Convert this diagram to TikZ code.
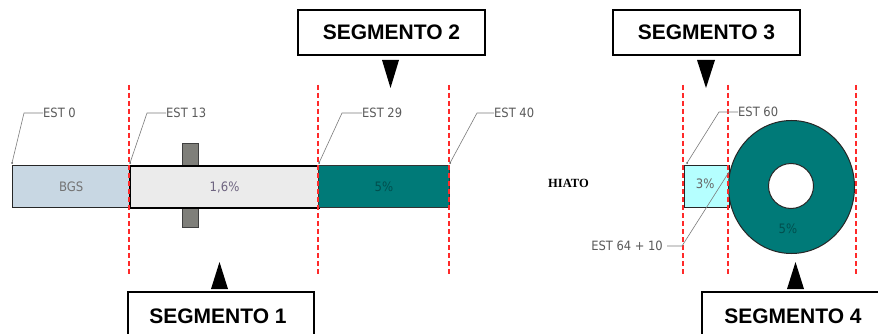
\documentclass[tikz,border=0pt]{standalone}
\usepackage{fontspec}
\usetikzlibrary{shapes.geometric}
\setmainfont{Liberation Sans}
\newfontfamily\estfont{DejaVu Sans Condensed}
\newfontfamily\hiatofont{Liberation Serif}
\definecolor{tealc}{HTML}{007A78}
\definecolor{bgsc}{HTML}{C8D7E3}
\definecolor{lgray}{HTML}{EBEBEB}
\definecolor{cyanc}{HTML}{B5FFFF}
\definecolor{postc}{HTML}{7F7F7A}
\definecolor{estc}{HTML}{5A5A5A}
\definecolor{redc}{HTML}{FF2A2A}
\definecolor{purpg}{HTML}{6E6480}
\tikzset{
  segbox/.style={draw=black, line width=2pt, fill=white, minimum width=187pt, minimum height=45pt, inner sep=0pt, font=\bfseries\fontsize{21}{21}\selectfont},
  segtext/.style={font=\bfseries\fontsize{21}{21}\selectfont, inner sep=0pt},
  arrowtri/.style={fill=black},
  cut/.style={draw=redc, line width=1.2pt, dash pattern=on 5pt off 3pt},
  esttext/.style={font=\estfont\fontsize{12.8}{13}\selectfont, text=estc, anchor=west, inner sep=0pt},
  leader/.style={draw=estc!80, line width=0.6pt},
  barlabel/.style={font=\estfont\fontsize{13}{13}\selectfont, inner sep=0pt}
}
\begin{document}
\begin{tikzpicture}[x=1pt,y=-1pt]
\useasboundingbox[fill=white] (0,0) rectangle (878,334);

% dashed section lines
\foreach \xx/\nm in {129/c1,318/c2,449/c3,683/c4,728/c5,856/c6}{
  \coordinate (\nm top) at (\xx,85);
  \coordinate (\nm bot) at (\xx,274);
}

% post behind segment 1 bar
\node[draw=black!75, fill=postc, line width=1pt, minimum width=16pt, minimum height=83pt, inner sep=0pt] (post) at (190,185.5) {};

% bar pieces
\node[draw=black!85, fill=bgsc, line width=1.3pt, minimum width=117pt, minimum height=42pt, inner sep=0pt, anchor=north west] (bgs) at (12,165) {};
\node[barlabel, text=black!55] at (bgs.center) {BGS};
\node[draw=black, fill=lgray, line width=2.2pt, minimum width=189pt, minimum height=42pt, inner sep=0pt, anchor=north west] (s1bar) at (129,165) {};
\node[barlabel, text=purpg] at (s1bar.center) {1,6\%};
\node[draw=black!80, fill=tealc, line width=1pt, minimum width=131pt, minimum height=42pt, inner sep=0pt, anchor=north west] (s2bar) at (318,165) {};
\node[barlabel, text=black!35!tealc] at (s2bar.center) {5\%};

% segment 3 box
\node[draw=black!85, fill=cyanc, line width=1.3pt, minimum width=45pt, minimum height=42pt, inner sep=0pt, anchor=north west] (s3bar) at (684,165) {};
\node[barlabel, text=black!60] at ([xshift=-2pt,yshift=3pt]s3bar.center) {3\%};

% donut
\node[draw=black!85, fill=tealc, line width=1pt, ellipse, minimum width=126pt, minimum height=133pt, inner sep=0pt] (donut) at (791.5,187) {};
\node[draw=black!85, fill=white, line width=1pt, circle, minimum size=45pt, inner sep=0pt] (hole) at (791,186) {};
\node[barlabel, text=black!35!tealc] at (788,229) {5\%};

% dashed lines on top
\foreach \nm in {c1,c2,c3,c4,c5,c6}{
  \draw[cut] (\nm top) -- (\nm bot);
}

% EST labels and leaders
\node[esttext] (e0) at (43,113) {EST 0};
\coordinate (e0k) at (24,113);
\coordinate (e0p) at (12,163);
\draw[leader] (e0.west) -- (e0k) -- (e0p);
\fill[estc] (e0p) circle (1pt);

\node[esttext] (e13) at (166,113) {EST 13};
\coordinate (e13k) at (147,113);
\coordinate (e13p) at (130,163);
\draw[leader] (e13.west) -- (e13k) -- (e13p);
\fill[estc] (e13p) circle (1pt);

\node[esttext] (e29) at (362,113) {EST 29};
\coordinate (e29k) at (342,113);
\coordinate (e29p) at (319,163);
\draw[leader] (e29.west) -- (e29k) -- (e29p);
\fill[estc] (e29p) circle (1pt);

\node[esttext] (e40) at (494,113) {EST 40};
\coordinate (e40k) at (477,113);
\coordinate (e40p) at (450,163);
\draw[leader] (e40.west) -- (e40k) -- (e40p);
\fill[estc] (e40p) circle (1pt);

\node[esttext] (e60) at (738,112) {EST 60};
\coordinate (e60k) at (719,112);
\coordinate (e60p) at (687,163);
\draw[leader] (e60.west) -- (e60k) -- (e60p);
\fill[estc] (e60p) circle (1pt);

\node[esttext, anchor=east] (e64) at (663,246) {EST 64 + 10};
\coordinate (e64k) at (682,246);
\coordinate (e64p) at (729,172);
\draw[leader] (e64.east) ++(4,0) -- (e64k) -- (e64p);

% HIATO
\node[font=\hiatofont\bfseries\fontsize{12.5}{13}\selectfont, inner sep=0pt] (hiato) at (568.5,183) {HIATO};

% segment boxes top
\node[segbox] (seg2) at (391.5,32.5) {SEGMENTO 2};
\node[segbox] (seg3) at (706.5,32.5) {SEGMENTO 3};
\fill[arrowtri] (382,60) -- (399,60) -- (390.5,88) -- cycle;
\fill[arrowtri] (697,60) -- (715,60) -- (706,88) -- cycle;

% segment boxes bottom (cut by the page edge)
\draw[line width=2pt] (128,336) -- (128,292) -- (314,292) -- (314,336);
\node[segtext] (seg1) at (218,316) {SEGMENTO 1};
\draw[line width=2pt] (702,336) -- (702,292) -- (880,292);
\node[segtext] (seg4) at (793,316) {SEGMENTO 4};
\fill[arrowtri] (211,289) -- (228,289) -- (219.5,262) -- cycle;
\fill[arrowtri] (787,289) -- (804,289) -- (795.5,262) -- cycle;
\end{tikzpicture}
\end{document}
